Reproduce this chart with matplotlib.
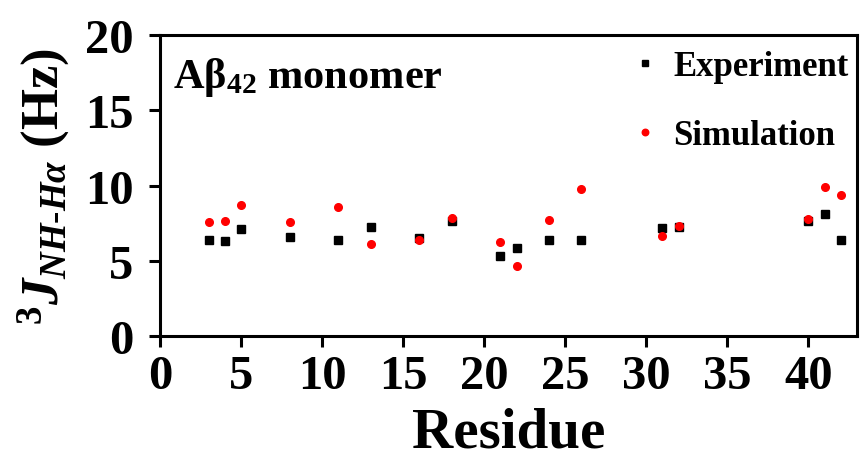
import matplotlib
matplotlib.use("Agg")
from matplotlib import pyplot as plt

# residue numbers and 3J(NH-Halpha) couplings in Hz
residues   = [3, 4, 5, 8, 11, 13, 16, 18, 21, 22, 24, 26, 31, 32, 40, 41, 42]
experiment = [6.38, 6.34, 7.15, 6.58, 6.40, 7.24, 6.51, 7.66, 5.32, 5.85,
              6.42, 6.42, 7.17, 7.22, 7.64, 8.10, 6.42]
simulation = [7.57, 7.64, 8.74, 7.57, 8.59, 6.14, 6.36, 7.88, 6.25, 4.68,
              7.70, 9.76, 6.62, 7.35, 7.79, 9.91, 9.40]

x_ticks = [0, 5, 10, 15, 20, 25, 30, 35, 40]
y_ticks = [0, 5, 10, 15, 20]

plt.rcParams.update({
    "font.family":       "serif",
    "font.serif":        ["Liberation Serif", "DejaVu Serif"],
    "font.weight":       "bold",
    "axes.labelweight":  "bold",
    "mathtext.fontset":  "custom",
    "mathtext.rm":       "Liberation Serif:bold",
    "mathtext.it":       "Liberation Serif:bold:italic",
    "mathtext.bf":       "Liberation Serif:bold",
    "axes.linewidth":    2.2,
})

fig = plt.figure(figsize=(8.6, 4.6), dpi=100)
ax = fig.add_axes([0.186, 0.267, 0.9965 - 0.186, 0.9217 - 0.267])

ax.plot(residues, experiment, ls="none", marker="s", ms=5.5,
        color="black", label="Experiment")
ax.plot(residues, simulation, ls="none", marker="o", ms=5.5,
        color="#ff0000", label="Simulation")

ax.set_xlim(0, 43)
ax.set_ylim(0, 20)
ax.set_xticks(x_ticks)
ax.set_yticks(y_ticks)
ax.tick_params(direction="out", length=8, width=2.2, labelsize=35)
ax.tick_params(axis="x", pad=5)
ax.tick_params(axis="y", pad=11)

ax.set_xlabel("Residue", fontsize=41, labelpad=6)
ax.set_ylabel(r"$^{3}J_{NH\text{-}H\alpha}$ (Hz)", fontsize=38, labelpad=9)

ax.text(0.018, 0.827, "A\u03b2$_{42}$ monomer", transform=ax.transAxes,
        fontsize=30.5, ha="left", va="baseline")

ax.legend(loc="upper right", bbox_to_anchor=(1.0, 0.98), frameon=False,
          fontsize=25, numpoints=1, handlelength=0.6, handletextpad=0.5,
          labelspacing=1.05, borderpad=0.25, borderaxespad=0.0,
          markerscale=0.85)

fig.savefig("out.png", dpi=100)
